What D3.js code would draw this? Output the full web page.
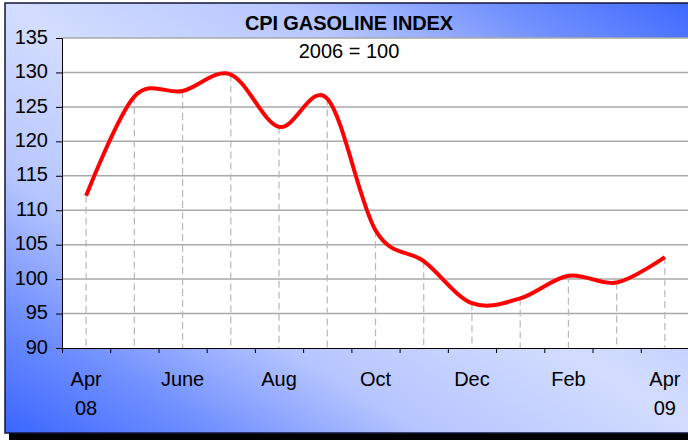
<!DOCTYPE html>
<html>
<head>
<meta charset="utf-8">
<script src="https://cdn.jsdelivr.net/npm/d3@7"></script>
<style>
  body { margin: 0; background: #fff; }
  svg { display: block; font-family: "Liberation Sans", Arial, sans-serif; }
</style>
</head>
<body>
<svg id="chart" width="688" height="440"></svg>
<script>
// months along the x axis (one point per month)
var months = ["Apr 08", "May", "June", "July", "Aug", "Sep", "Oct", "Nov", "Dec", "Jan", "Feb", "Mar", "Apr 09"];
// CPI gasoline index, 2006 = 100
var cpi = [112.1, 126.5, 127.3, 129.7, 122.1, 126.2, 107.1, 102.6, 96.5, 97.2, 100.5, 99.5, 103.2];
// labels shown under every second month
var xLabels = [["Apr", "08"], null, ["June"], null, ["Aug"], null, ["Oct"], null, ["Dec"], null, ["Feb"], null, ["Apr", "09"]];
var yTicks = [90, 95, 100, 105, 110, 115, 120, 125, 130, 135];

var svg = d3.select("#chart");
var pLeft = 62, pRight = 689, pTop = 38, pBottom = 348;

// background gradient: dark at bottom-left and top-right
var defs = svg.append("defs");
var grad = defs.append("linearGradient")
  .attr("id", "bg")
  .attr("x1", 0).attr("y1", 1)
  .attr("x2", 1).attr("y2", 0);
var stops = [[0, "#3a66ff"], [0.14, "#6d8dff"], [0.3, "#b6c5ff"], [0.5, "#d3ddff"], [0.7, "#b6c5ff"], [0.86, "#6d8dff"], [1, "#3a66ff"]];
stops.forEach(function(s) {
  grad.append("stop").attr("offset", s[0]).attr("stop-color", s[1]);
});

// shadow + chart area
svg.append("rect")
  .attr("x", 9).attr("y", 7)
  .attr("width", 700).attr("height", 433)
  .attr("fill", "#000");
svg.append("rect")
  .attr("x", 5).attr("y", 3)
  .attr("width", 700).attr("height", 430)
  .attr("fill", "url(#bg)")
  .attr("stroke", "#14143a")
  .attr("stroke-width", 1.5);

var x = d3.scaleBand().domain(months).range([pLeft, pRight]);
var y = d3.scaleLinear().domain([90, 135]).range([pBottom, pTop]);
var cx = function(m) { return x(m) + x.bandwidth() / 2; };

// plot area
svg.append("rect")
  .attr("x", pLeft).attr("y", pTop)
  .attr("width", pRight - pLeft).attr("height", pBottom - pTop)
  .attr("fill", "#fff");

// gridlines
svg.append("g")
  .selectAll("line")
  .data(yTicks.filter(function(d) { return d > 90; }))
  .enter()
  .append("line")
  .attr("x1", pLeft).attr("x2", pRight)
  .attr("y1", function(d) { return y(d); })
  .attr("y2", function(d) { return y(d); })
  .attr("stroke", "#a9a9a9")
  .attr("stroke-width", 1.5);

// drop lines
svg.append("g")
  .selectAll("line")
  .data(months)
  .enter()
  .append("line")
  .attr("x1", cx).attr("x2", cx)
  .attr("y1", function(d, i) { return y(cpi[i]); })
  .attr("y2", pBottom)
  .attr("stroke", "#b8b8b8")
  .attr("stroke-width", 1.2)
  .attr("stroke-dasharray", "7,4");

// y axis
var yAxis = d3.axisLeft(y).tickValues(yTicks).tickSize(6).tickPadding(8);
var gy = svg.append("g")
  .attr("transform", "translate(" + pLeft + ",0)")
  .call(yAxis);
gy.select(".domain").attr("stroke", "#000");
gy.selectAll("text")
  .attr("font-size", 20)
  .attr("font-family", "Liberation Sans, Arial, sans-serif")
  .attr("dy", "0.26em")
  .attr("fill", "#000");

// x axis: ticks at month boundaries
var xb = d3.scaleLinear().domain([0, months.length]).range([pLeft, pRight]);
var gx = svg.append("g")
  .attr("transform", "translate(0," + pBottom + ")")
  .call(d3.axisBottom(xb).tickValues(d3.range(0, months.length + 1)).tickSize(5).tickSizeOuter(0).tickFormat(""));
gx.select(".domain").attr("stroke", "#000");

// x labels
var lab = svg.append("g")
  .selectAll("text")
  .data(months.filter(function(d, i) { return xLabels[i]; }))
  .enter()
  .append("text")
  .attr("text-anchor", "middle")
  .attr("font-size", 20)
  .attr("fill", "#000");
lab.each(function(m) {
  var parts = xLabels[months.indexOf(m)];
  var t = d3.select(this);
  parts.forEach(function(p, j) {
    t.append("tspan")
      .attr("x", cx(m))
      .attr("y", 386 + j * 29)
      .text(p);
  });
});

// the line
var line = d3.line()
  .x(function(d, i) { return cx(months[i]); })
  .y(function(d) { return y(d); })
  .curve(d3.curveCardinal.tension(0));
svg.append("path")
  .datum(cpi)
  .attr("d", line)
  .attr("fill", "none")
  .attr("stroke", "#ff0000")
  .attr("stroke-width", 4)
  .attr("stroke-linejoin", "round");

// titles
svg.append("text")
  .attr("x", 349).attr("y", 30)
  .attr("text-anchor", "middle")
  .attr("font-size", 20)
  .attr("font-weight", "bold")
  .attr("letter-spacing", -0.1)
  .text("CPI GASOLINE INDEX");
svg.append("text")
  .attr("x", 349).attr("y", 58)
  .attr("text-anchor", "middle")
  .attr("font-size", 20)
  .text("2006 = 100");
</script>
</body>
</html>
